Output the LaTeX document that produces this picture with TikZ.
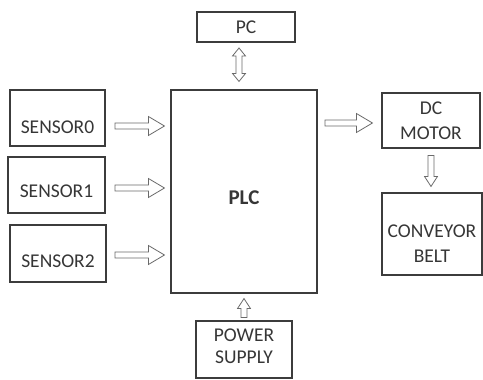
\documentclass[tikz,border=0pt]{standalone}
\usepackage{fontspec}
\setmainfont{Carlito}
\usepackage{tikz}
\usetikzlibrary{calc}
\definecolor{boxline}{HTML}{3C3C3C}
\definecolor{boxtext}{HTML}{363636}
\definecolor{arrline}{HTML}{6A6A6A}
\tikzstyle{block} = [rectangle, draw=boxline, line width=1.1pt, text=boxtext, align=center, inner sep=0pt, font=\fontsize{19.5}{25}\selectfont]
\tikzset{
  blockarrow/.style n args={4}{draw=arrline, fill=white, line width=0.8pt,
    to path={let \p1=(\tikztostart), \p2=(\tikztotarget),
      \n1={atan2(\y2-\y1,\x2-\x1)},
      \n2={veclen(\x2-\x1,\y2-\y1)-#2},
      \n3={\n2-#3} in
      ($(\p1)+(\n1:#1)+(\n1+90:3pt)$) -- ($(\p1)+(\n1:\n3)+(\n1+90:3pt)$)
      -- ($(\p1)+(\n1:\n3)+(\n1+90:#4)$) -- ($(\p1)+(\n1:\n2)$)
      -- ($(\p1)+(\n1:\n3)+(\n1-90:#4)$) -- ($(\p1)+(\n1:\n3)+(\n1-90:3pt)$)
      -- ($(\p1)+(\n1:#1)+(\n1-90:3pt)$) -- cycle}},
  dblockarrow/.style n args={4}{draw=arrline, fill=white, line width=0.8pt,
    to path={let \p1=(\tikztostart), \p2=(\tikztotarget),
      \n1={atan2(\y2-\y1,\x2-\x1)},
      \n2={veclen(\x2-\x1,\y2-\y1)-#2},
      \n3={\n2-#3}, \n4={#1+#3} in
      ($(\p1)+(\n1:#1)$) -- ($(\p1)+(\n1:\n4)+(\n1+90:#4)$)
      -- ($(\p1)+(\n1:\n4)+(\n1+90:3pt)$) -- ($(\p1)+(\n1:\n3)+(\n1+90:3pt)$)
      -- ($(\p1)+(\n1:\n3)+(\n1+90:#4)$) -- ($(\p1)+(\n1:\n2)$)
      -- ($(\p1)+(\n1:\n3)+(\n1-90:#4)$) -- ($(\p1)+(\n1:\n3)+(\n1-90:3pt)$)
      -- ($(\p1)+(\n1:\n4)+(\n1-90:3pt)$) -- ($(\p1)+(\n1:\n4)+(\n1-90:#4)$) -- cycle}},
  harrow/.style 2 args={blockarrow={#1}{#2}{16pt}{9.5pt}},
  varrow/.style 2 args={blockarrow={#1}{#2}{10pt}{6.5pt}}
}

\begin{document}
\begin{tikzpicture}[x=1pt, y=-1pt]
\useasboundingbox (0,0) rectangle (483,380);
\node (pc) [block, minimum width=98pt, minimum height=30pt] at (246,27) {PC};
\node (plc) [block, minimum width=146pt, minimum height=203pt, text height=26.5pt, text depth=0pt, font=\fontsize{21}{25}\selectfont\bfseries] at (244,191.5) {PLC};
\node (s0) [block, minimum width=95pt, minimum height=56pt, text height=31.6pt, text depth=0pt] at (57.5,118) {SENSOR0};
\node (s1) [block, minimum width=97pt, minimum height=56pt, text height=25.6pt, text depth=0pt] at (56.5,185) {SENSOR1};
\node (s2) [block, minimum width=96pt, minimum height=57pt, text height=27.6pt, text depth=0pt] at (58,253.5) {SENSOR2};
\node (dcm) [block, minimum width=98pt, minimum height=55pt] at (431,120.5) {DC\\MOTOR};
\node (belt) [block, minimum width=100pt, minimum height=82pt, text height=57.6pt, text depth=0pt] at (432,234) {CONVEYOR\\BELT};
\node (pwr) [block, minimum width=96pt, minimum height=57pt, text depth=7pt, font=\fontsize{19.5}{22}\selectfont] at (244,349.5) {POWER\\SUPPLY};
\coordinate (in0) at (105,126);
\coordinate (in1) at (105,188);
\coordinate (in2) at (106,255);
\coordinate (out) at (317,123);
\coordinate (pcl) at (239,42);
\draw [harrow={10pt}{6pt}] (in0) to (in0 -| plc.west);
\draw [harrow={10pt}{6pt}] (in1) to (in1 -| plc.west);
\draw [harrow={9pt}{6pt}] (in2) to (in2 -| plc.west);
\draw [harrow={8pt}{9pt}] (out) to (out -| dcm.west);
\draw [varrow={7pt}{6pt}] (dcm.south) to (dcm.south |- belt.north);
\draw [varrow={3pt}{5pt}] (pwr.north) to (plc.south);
\draw [dblockarrow={6pt}{8pt}{8pt}{6.5pt}] (pcl) to (pcl |- plc.north);
\end{tikzpicture}
\end{document}
